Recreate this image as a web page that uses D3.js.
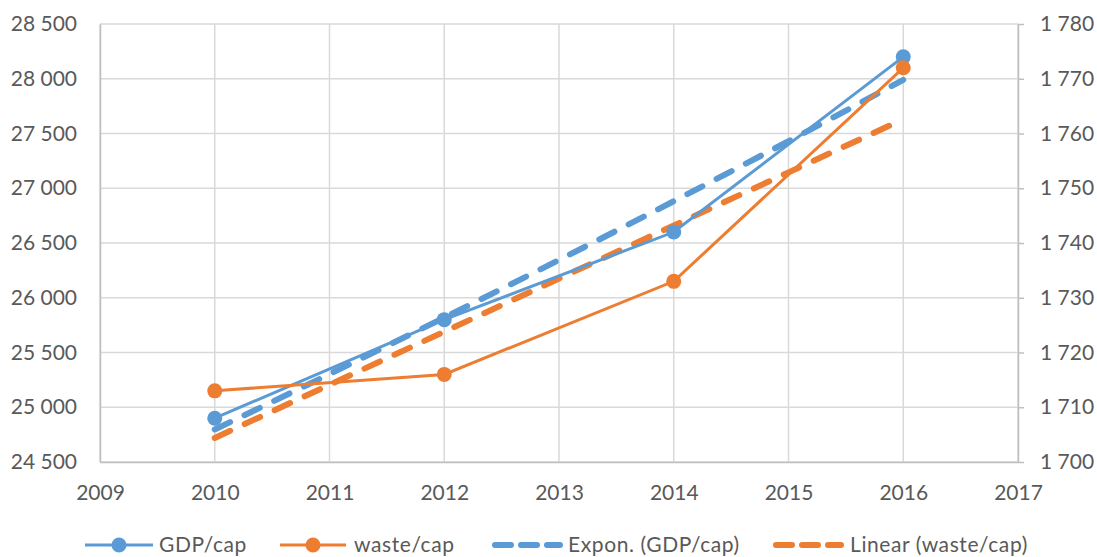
<!DOCTYPE html>
<html lang="en">
<head>
  <meta charset="UTF-8">
  <title>GDP and waste per capita</title>
  <script src="https://cdn.jsdelivr.net/npm/d3@7"></script>
  <style>
    body { margin: 0; background: #fff; }
    text { font-family: Lato, "Open Sans", sans-serif; fill: #595959; }
  </style>
</head>
<body>
  <script>
    // data
    const years = [2010, 2012, 2014, 2016];
    const gdpPerCap = [24900, 25800, 26600, 28200];
    const wastePerCap = [1713, 1716, 1733, 1772];

    // trendline values as they appear on the picture, one per year
    const trendYears = [2010, 2011, 2012, 2013, 2014, 2015, 2016];
    const gdpExpTrend = [24797, 25303, 25819, 26345, 26882, 27430, 27990];
    const wasteLinTrend = [1704.4, 1714.1, 1723.8, 1733.5, 1743.2, 1752.9, 1762.6];

    const xTicks = [2009, 2010, 2011, 2012, 2013, 2014, 2015, 2016, 2017];
    const leftTicks = [24500, 25000, 25500, 26000, 26500, 27000, 27500, 28000, 28500];
    const rightTicks = [1700, 1710, 1720, 1730, 1740, 1750, 1760, 1770, 1780];

    const blue = "#5b9bd5";
    const orange = "#ed7d31";
    const grid = "#d9d9d9";

    const width = 1097, height = 557;
    const plot = { left: 100, right: 1018, top: 24, bottom: 462 };

    const fmt = d => d3.format(",")(d).replace(/,/g, " ");

    const svg = d3.select("body").append("svg")
      .attr("width", width)
      .attr("height", height);

    const x = d3.scaleLinear().domain([2009, 2017]).range([plot.left, plot.right]);
    const yL = d3.scaleLinear().domain([24500, 28500]).range([plot.bottom, plot.top]);
    const yR = d3.scaleLinear().domain([1700, 1780]).range([plot.bottom, plot.top]);

    // gridlines
    svg.append("g").selectAll("line").data(leftTicks).join("line")
      .attr("x1", plot.left).attr("x2", plot.right)
      .attr("y1", d => yL(d)).attr("y2", d => yL(d))
      .attr("stroke", grid).attr("stroke-width", 1.5);
    svg.append("g").selectAll("line").data(xTicks).join("line")
      .attr("x1", d => x(d)).attr("x2", d => x(d))
      .attr("y1", plot.top).attr("y2", plot.bottom)
      .attr("stroke", grid).attr("stroke-width", 1.5);

    // left axis
    const gl = svg.append("g")
      .attr("transform", `translate(${plot.left},0)`)
      .call(d3.axisLeft(yL).tickValues(leftTicks).tickFormat(fmt).tickSize(0).tickPadding(23));
    gl.select(".domain").attr("stroke", "#bfbfbf").attr("stroke-width", 1.5);

    // right axis
    const gr = svg.append("g")
      .attr("transform", `translate(${plot.right},0)`)
      .call(d3.axisRight(yR).tickValues(rightTicks).tickFormat(fmt).tickSize(6).tickSizeOuter(0).tickPadding(16));
    gr.select(".domain").attr("stroke", "#bfbfbf").attr("stroke-width", 1.5);
    gr.selectAll(".tick line").attr("stroke", "#bfbfbf").attr("stroke-width", 1.5);

    // bottom axis
    const gb = svg.append("g")
      .attr("transform", `translate(0,${plot.bottom})`)
      .call(d3.axisBottom(x).tickValues(xTicks).tickFormat(d3.format("d")).tickSize(0).tickPadding(23));
    gb.select(".domain").attr("stroke", "#bfbfbf").attr("stroke-width", 1.5);

    svg.selectAll(".tick text").style("font-size", "21px").attr("fill", "#595959")
      .style("font-family", "Lato, 'Open Sans', sans-serif");

    // trendlines
    const dash = "17,16";
    svg.append("path")
      .datum(trendYears.map((d, i) => [d, gdpExpTrend[i]]))
      .attr("fill", "none").attr("stroke", blue).attr("stroke-width", 6)
      .attr("stroke-linecap", "round").attr("stroke-dasharray", dash)
      .attr("d", d3.line().x(d => x(d[0])).y(d => yL(d[1])).curve(d3.curveMonotoneX));
    svg.append("path")
      .datum(trendYears.map((d, i) => [d, wasteLinTrend[i]]))
      .attr("fill", "none").attr("stroke", orange).attr("stroke-width", 6)
      .attr("stroke-linecap", "round").attr("stroke-dasharray", dash)
      .attr("d", d3.line().x(d => x(d[0])).y(d => yR(d[1])));

    // series lines
    const gdpPts = years.map((d, i) => [d, gdpPerCap[i]]);
    const wastePts = years.map((d, i) => [d, wastePerCap[i]]);

    svg.append("path").datum(gdpPts)
      .attr("fill", "none").attr("stroke", blue).attr("stroke-width", 3)
      .attr("d", d3.line().x(d => x(d[0])).y(d => yL(d[1])));
    svg.append("g").selectAll("circle").data(gdpPts).join("circle")
      .attr("cx", d => x(d[0])).attr("cy", d => yL(d[1])).attr("r", 7.5).attr("fill", blue);

    svg.append("path").datum(wastePts)
      .attr("fill", "none").attr("stroke", orange).attr("stroke-width", 3)
      .attr("d", d3.line().x(d => x(d[0])).y(d => yR(d[1])));
    svg.append("g").selectAll("circle").data(wastePts).join("circle")
      .attr("cx", d => x(d[0])).attr("cy", d => yR(d[1])).attr("r", 7.5).attr("fill", orange);

    // legend
    const legendY = 545;
    const legend = [
      { label: "GDP/cap", color: blue, x0: 85, x1: 153, marker: true, text: 159 },
      { label: "waste/cap", color: orange, x0: 280, x1: 346, marker: true, text: 354 },
      { label: "Expon. (GDP/cap)", color: blue, x0: 495, x1: 560, marker: false, text: 568 },
      { label: "Linear (waste/cap)", color: orange, x0: 776, x1: 841, marker: false, text: 850 }
    ];
    const lg = svg.append("g").selectAll("g").data(legend).join("g");
    lg.append("line")
      .attr("x1", d => d.x0).attr("x2", d => d.x1)
      .attr("y1", legendY).attr("y2", legendY)
      .attr("stroke", d => d.color)
      .attr("stroke-width", d => d.marker ? 3 : 6)
      .attr("stroke-linecap", d => d.marker ? "butt" : "round")
      .attr("stroke-dasharray", d => d.marker ? null : "16,10");
    lg.filter(d => d.marker).append("circle")
      .attr("cx", d => (d.x0 + d.x1) / 2).attr("cy", legendY).attr("r", 7.5)
      .attr("fill", d => d.color);
    lg.append("text")
      .attr("x", d => d.text).attr("y", legendY)
      .attr("dy", "0.35em")
      .style("font-size", "21px")
      .style("letter-spacing", "0.6px")
      .text(d => d.label);
  </script>
</body>
</html>
